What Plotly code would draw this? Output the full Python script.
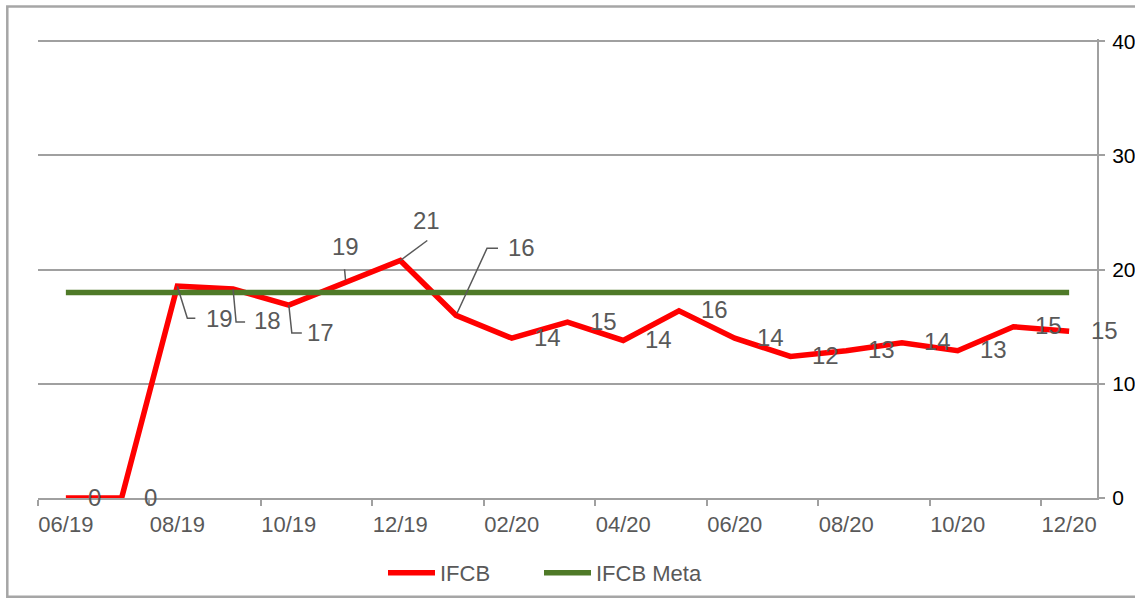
import plotly.graph_objects as go

# ---------------- data ----------------
months = ["06/19", "07/19", "08/19", "09/19", "10/19", "11/19", "12/19",
          "01/20", "02/20", "03/20", "04/20", "05/20", "06/20", "07/20",
          "08/20", "09/20", "10/20", "11/20", "12/20"]
ifcb = [0, 0, 18.55, 18.3, 16.9, 18.9, 20.8, 16.0, 14.0, 15.4, 13.8, 16.4,
        14.0, 12.4, 12.9, 13.6, 12.9, 15.0, 14.6]
ifcb_meta = [18, 18, 18, 18, 18, 18, 18, 18, 18, 18, 18, 18, 18, 18, 18, 18,
             18, 18, 18]
tick_labels = ["06/19", "08/19", "10/19", "12/19", "02/20", "04/20",
               "06/20", "08/20", "10/20", "12/20"]
y_ticks = [0, 10, 20, 30, 40]

# ---------------- style ----------------
W, H = 1135, 598
L, R, T, B = 38, 38, 39, 100
PW, PH = W - L - R, H - T - B
FONT = "Liberation Sans, Arial, sans-serif"
GRAY_TXT = "#595959"
GRID = "#A0A0A0"
RED = "#FF0000"
GREEN = "#4F7A28"


def px_x(p):  # figure pixel -> paper x
    return (p - L) / PW


def px_y(p):  # figure pixel (from top) -> paper y
    return (H - B - p) / PH


x = list(range(len(months)))
tickvals = [months.index(t) for t in tick_labels]

fig = go.Figure()
fig.add_trace(go.Scatter(x=x, y=ifcb, mode="lines", name="IFCB", legend="legend",
                         line=dict(color=RED, width=5.5), hoverinfo="skip"))
fig.add_trace(go.Scatter(x=x, y=ifcb_meta, mode="lines", name="IFCB Meta",
                         legend="legend2",
                         line=dict(color=GREEN, width=5.5), hoverinfo="skip"))

# label placement (screen px, +y down) for labels with leader lines
special = {
    2: dict(dx=42, dy=33, path=[(0, 0), (10, 32), (18, 32)]),
    3: dict(dx=34, dy=32, path=[(0, 0), (3, 33), (12, 33)]),
    4: dict(dx=32, dy=28, path=[(0, 0), (3, 28), (13, 28)]),
    5: dict(dx=1, dy=-35, path=[(1, -2), (0, -13)]),
    6: dict(dx=26, dy=-39, path=[(0, 0), (27, -20)]),
    7: dict(dx=65, dy=-67, path=[(1, -2), (31, -67), (42, -67)]),
}

annotations = []
shapes = []
for i, v in enumerate(ifcb):
    txt = f"{v:.0f}"
    if i in special:
        s = special[i]
        annotations.append(dict(x=i, y=v, xref="x", yref="y", text=txt,
                                showarrow=False, xanchor="center", yanchor="middle",
                                xshift=s["dx"], yshift=-s["dy"] + 1,
                                font=dict(family=FONT, size=24, color=GRAY_TXT)))
        p = "M" + " L".join(f"{px},{-py}" for px, py in s["path"])
        shapes.append(dict(type="path", xref="x", yref="y", xsizemode="pixel",
                           ysizemode="pixel", xanchor=i, yanchor=v, path=p,
                           line=dict(color=GRAY_TXT, width=1.5), layer="above"))
    else:
        annotations.append(dict(x=i, y=v, xref="x", yref="y", text=txt,
                                showarrow=False, xanchor="left", yanchor="middle",
                                xshift=20, yshift=1,
                                font=dict(family=FONT, size=24, color=GRAY_TXT)))

# outer border (right side lies outside the picture)
bx0, bx1, by0, by1 = px_x(7.3), px_x(W + 5), px_y(6.5), px_y(596.7)
shapes.append(dict(type="path", xref="paper", yref="paper",
                   path=f"M{bx1},{by0} L{bx0},{by0} L{bx0},{by1} L{bx1},{by1}",
                   line=dict(color="#A6A6A6", width=2.5), layer="below"))

leg_common = dict(orientation="h", xanchor="left", yanchor="middle",
                  xref="container", yref="container", y=1 - 573 / H,
                  font=dict(family=FONT, size=22, color=GRAY_TXT),
                  bgcolor="rgba(0,0,0,0)", itemwidth=47)

fig.update_layout(
    width=W, height=H,
    margin=dict(l=L, r=R, t=T, b=B, autoexpand=False),
    paper_bgcolor="white", plot_bgcolor="white",
    font=dict(family=FONT, size=22, color=GRAY_TXT),
    showlegend=True,
    legend=dict(x=383 / W, **leg_common),
    legend2=dict(x=539 / W, **leg_common),
    annotations=annotations,
    shapes=shapes,
    xaxis=dict(range=[-0.5, len(months) - 0.5], tickmode="array",
               tickvals=tickvals, ticktext=tick_labels, ticks="",
               showgrid=False, zeroline=False, showline=True, automargin=False,
               linecolor=GRID, linewidth=2,
               tickfont=dict(family=FONT, size=22, color=GRAY_TXT),
               ticklabelstandoff=6,
               minor=dict(tickmode="array",
                          tickvals=[t - 0.5 for t in tickvals],
                          ticks="outside", ticklen=6, tickwidth=2,
                          tickcolor=GRID, showgrid=False)),
    yaxis=dict(side="right", range=[0, 40.2], tickmode="array", tickvals=y_ticks,
               showgrid=True, gridcolor=GRID, gridwidth=2, zeroline=False,
               showline=True, linecolor=GRID, linewidth=2, automargin=False,
               ticks="outside", ticklen=6, tickwidth=2, tickcolor=GRID,
               tickfont=dict(family=FONT, size=21, color="#000000"),
               ticklabelstandoff=3),
)

fig.write_html(
    "out.html",
    config={"displayModeBar": False},
    post_script=(
        "document.documentElement.style.margin='0';"
        "document.documentElement.style.overflow='hidden';"
        "document.body.style.margin='0';"
        "document.body.style.overflow='hidden';"
    ),
)
